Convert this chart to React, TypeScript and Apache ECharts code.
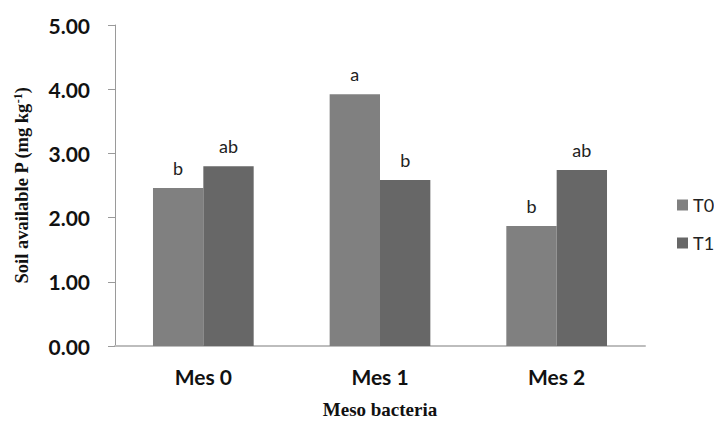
import React, { useEffect, useRef } from "react";
import * as echarts from "echarts";

const categories = ["Mes 0", "Mes 1", "Mes 2"];
const t0Values = [2.46, 3.92, 1.87];
const t1Values = [2.8, 2.585, 2.74];
const t0Letters = ["b", "a", "b"];
const t1Letters = ["ab", "b", "ab"];
const yTicks = { min: 0, max: 5, interval: 1 };

const SANS = "Lato, 'Open Sans', sans-serif";
const SERIF = "'Liberation Serif', 'DejaVu Serif', serif";

export default function App() {
  const ref = useRef<HTMLDivElement>(null);
  useEffect(() => {
    if (!ref.current) return;
    const chart = echarts.init(ref.current, undefined, { renderer: "svg" });
    const labelFor = (letters: string[]) => ({
      show: true,
      position: "top" as const,
      distance: 11,
      fontFamily: SANS,
      fontSize: 18,
      color: "#222",
      formatter: (p: any) => letters[p.dataIndex],
    });
    chart.setOption({
      animation: false,
      backgroundColor: "#ffffff",
      grid: { left: 115, right: 69, top: 25, bottom: 77, outerBoundsMode: "none", containLabel: false },
      legend: {
        orient: "vertical",
        left: 677,
        top: 196,
        padding: 0,
        itemWidth: 11,
        itemHeight: 11,
        itemGap: 20,
        icon: "rect",
        textStyle: { fontFamily: SANS, fontSize: 18, color: "#222" },
        data: ["T0", "T1"],
      },
      xAxis: {
        type: "category",
        data: categories,
        axisTick: { show: false },
        axisLine: { lineStyle: { color: "#bdbdbd", width: 2 } },
        axisLabel: {
          fontFamily: SANS,
          fontWeight: "bold",
          fontSize: 21,
          color: "#111",
          margin: 20,
        },
        name: "Meso bacteria",
        nameLocation: "middle",
        nameGap: 54,
        nameTextStyle: {
          fontFamily: SERIF,
          fontWeight: "bold",
          fontSize: 19,
          lineHeight: 19,
          color: "#111",
        },
      },
      yAxis: {
        type: "value",
        min: yTicks.min,
        max: yTicks.max,
        interval: yTicks.interval,
        splitLine: { show: false },
        axisLine: { show: true, lineStyle: { color: "#9a9a9a", width: 1 } },
        axisTick: { show: true, length: 7, lineStyle: { color: "#9a9a9a" } },
        axisLabel: {
          fontFamily: SANS,
          fontWeight: "bold",
          fontSize: 21,
          color: "#111",
          margin: 25,
          formatter: (v: number) => v.toFixed(2),
        },
        name: "{a|Soil available P (mg kg}{s|-1}{a|)}",
        nameLocation: "middle",
        nameRotate: 90,
        nameGap: 83,
        nameTextStyle: {
          rich: {
            a: { fontFamily: SERIF, fontWeight: "bold", fontSize: 18.5, color: "#111" },
            s: {
              fontFamily: SERIF,
              fontWeight: "bold",
              fontSize: 12,
              color: "#111",
              verticalAlign: "top",
              padding: [0, 0, 8, 0],
            },
          },
        },
      },
      series: [
        {
          name: "T0",
          type: "bar",
          data: t0Values,
          barGap: "0%",
          barCategoryGap: "43%",
          itemStyle: { color: "#808080" },
          label: labelFor(t0Letters),
        },
        {
          name: "T1",
          type: "bar",
          data: t1Values,
          barGap: "0%",
          barCategoryGap: "43%",
          itemStyle: { color: "#676767" },
          label: labelFor(t1Letters),
        },
      ],
    });
    return () => chart.dispose();
  }, []);
  return (
    <div
      ref={ref}
      style={{ position: "absolute", left: 0, top: 0, width: 714, height: 423 }}
    />
  );
}
